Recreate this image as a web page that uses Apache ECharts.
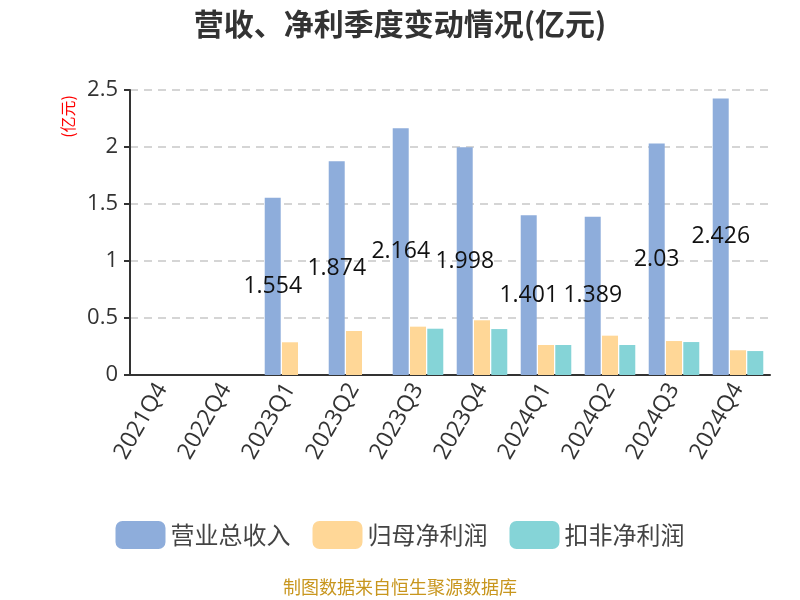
<!DOCTYPE html>
<html><head><meta charset="utf-8">
<script src="https://cdn.jsdelivr.net/npm/echarts@6/dist/echarts.min.js"></script>
<style>html,body{margin:0;padding:0;background:#fff}#c{width:800px;height:600px}</style>
</head><body><div id="c"></div>
<script>
var categories = ['2021Q4','2022Q4','2023Q1','2023Q2','2023Q3','2023Q4','2024Q1','2024Q2','2024Q3','2024Q4'];
var revenue = [null, null, 1.554, 1.874, 2.164, 1.998, 1.401, 1.389, 2.03, 2.426];
var netProfit = [null, null, 0.287, 0.386, 0.424, 0.48, 0.263, 0.345, 0.298, 0.217];
var deductedProfit = [null, null, null, null, 0.406, 0.403, 0.263, 0.263, 0.289, 0.21];
var yTicks = [0, 0.5, 1, 1.5, 2, 2.5];

var chart = echarts.init(document.getElementById('c'));
var font = '"Open Sans", "Noto Sans CJK SC", sans-serif';
chart.setOption({
  animation: false,
  textStyle: {fontFamily: font},
  title: {text: '营收、净利季度变动情况(亿元)', left: 'center', top: 4,
    textStyle: {fontSize: 30, fontWeight: 'bold', color: '#333', fontFamily: '"Noto Sans CJK SC", sans-serif'}},
  grid: {left: 130, right: 30, top: 90, bottom: 225},
  legend: {top: 516, itemWidth: 50, itemHeight: 28, itemGap: 22, icon: 'roundRect',
    textStyle: {fontSize: 24, color: '#444', fontFamily: '"Noto Sans CJK SC", sans-serif'},
    data: ['营业总收入', '归母净利润', '扣非净利润']},
  graphic: [{type: 'text', left: 'center', top: 578,
    style: {text: '制图数据来自恒生聚源数据库', fill: '#c8961e', fontSize: 18, fontFamily: '"Noto Sans CJK SC", sans-serif'}}],
  xAxis: {type: 'category', data: categories,
    axisLine: {lineStyle: {color: '#333', width: 2}},
    axisTick: {lineStyle: {color: '#333', width: 2}, length: 6},
    axisLabel: {rotate: 60, fontSize: 23, color: '#333', margin: 10, fontFamily: font}},
  yAxis: {type: 'value', min: yTicks[0], max: yTicks[yTicks.length - 1], interval: 0.5,
    name: '(亿元)', nameLocation: 'end', nameRotate: 90, nameGap: -5,
    nameTextStyle: {color: 'red', fontSize: 16, align: 'right', verticalAlign: 'bottom', padding: [0, 0, 54, 0],
      fontFamily: '"Noto Sans CJK SC", sans-serif'},
    axisLine: {show: true, lineStyle: {color: '#333', width: 2}},
    axisTick: {show: true, lineStyle: {color: '#333', width: 2}, length: 6},
    axisLabel: {fontSize: 22, color: '#333', margin: 12, fontFamily: font},
    splitLine: {lineStyle: {type: [8, 6], color: '#c8c8c8', width: 1.5}}},
  series: [
    {name: '营业总收入', type: 'bar', data: revenue, barWidth: 16, barGap: '8%',
      itemStyle: {color: '#8eaddb'},
      label: {show: true, position: 'inside', color: '#111', fontSize: 23, fontFamily: font}},
    {name: '归母净利润', type: 'bar', data: netProfit, barWidth: 16, barGap: '8%',
      itemStyle: {color: '#ffd797'}},
    {name: '扣非净利润', type: 'bar', data: deductedProfit, barWidth: 16, barGap: '8%',
      itemStyle: {color: '#85d4d7'}}
  ]
});
</script></body></html>
